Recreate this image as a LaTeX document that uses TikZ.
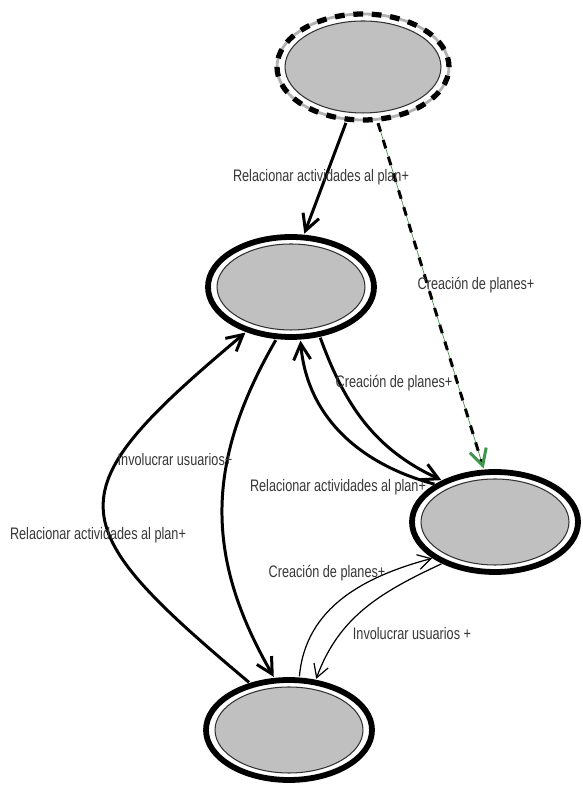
\documentclass[tikz,border=0pt]{standalone}
\usepackage{fontspec}
\usetikzlibrary{arrows.meta,shapes.geometric}
\newfontfamily\lblfont[FakeStretch=0.76]{Liberation Sans}
\definecolor{stG}{RGB}{192,192,192}
\definecolor{lnG}{RGB}{62,150,72}
\definecolor{txG}{RGB}{55,55,55}

\begin{document}
\begin{tikzpicture}[x=0.02cm,y=0.02cm,
  state/.style={ellipse,draw=black!80,line width=0.6pt,fill=stG,minimum width=2.96cm,minimum height=1.72cm,inner sep=0pt,outer sep=0.22cm},
  ring/.style={draw=black,line width=3.3pt},
  heavy/.style={-{Straight Barb[length=3.2mm,width=3.4mm]},line width=1.7pt},
  light/.style={-{Straight Barb[length=2.6mm,width=3mm]},line width=0.7pt},
  lbl/.style={font=\lblfont\fontsize{9.5}{11}\selectfont,text=txG,inner sep=1pt}]
\useasboundingbox (0,0) rectangle (582,787);
% states
\node[state,minimum width=3.12cm,minimum height=1.84cm] (s0) at (363,720) {};
\node[state] (s1) at (291,500) {};
\node[state] (s2) at (495,265) {};
\node[state] (s3) at (289,57) {};
\draw[gray!60,line width=1.6pt] (s0.center) ellipse (86 and 53);
\draw[black,line width=3pt,dash pattern=on 5.5pt off 5pt] (s0.center) ellipse (86 and 53);
\foreach \s in {s1,s2,s3} \draw[ring] (\s.center) ellipse (83 and 50);
% transitions
\draw[heavy] (s0.-107) -- (s1.76);
\draw[heavy,black,dash pattern=on 5pt off 5pt,-{Straight Barb[length=3.2mm,width=3.4mm,lnG]},preaction={draw=lnG,solid}] (s0.-75) -- (s2.102);
\draw[heavy] (s1.-60) to[out=-70,in=155] (s2.142);
\draw[heavy] (s2.148) to[out=165,in=-85] (s1.-80);
\draw[heavy] (s1.-106) .. controls +(-120:140) and +(120:140) .. (s3.106);
\draw[heavy] (s3.130) .. controls +(140:250) and +(-140:250) .. (s1.-135);
\draw[light] (s3.79) to[out=85,in=-165] (s2.-150);
\draw[light] (s2.-142) to[out=-155,in=70] (s3.62);
% labels
\node[lbl] (l1) at (321,610) {Relacionar actividades al plan+};
\node[lbl] (l2) at (476,502) {Creación de planes+};
\node[lbl] (l3) at (394,404) {Creación de planes+};
\node[lbl] (l4) at (338,300) {Relacionar actividades al plan+};
\node[lbl] (l5) at (175,327) {Involucrar usuarios+};
\node[lbl] (l6) at (98,252) {Relacionar actividades al plan+};
\node[lbl] (l7) at (327,214) {Creación de planes+};
\node[lbl] (l8) at (412,153) {Involucrar usuarios +};
\end{tikzpicture}
\end{document}
